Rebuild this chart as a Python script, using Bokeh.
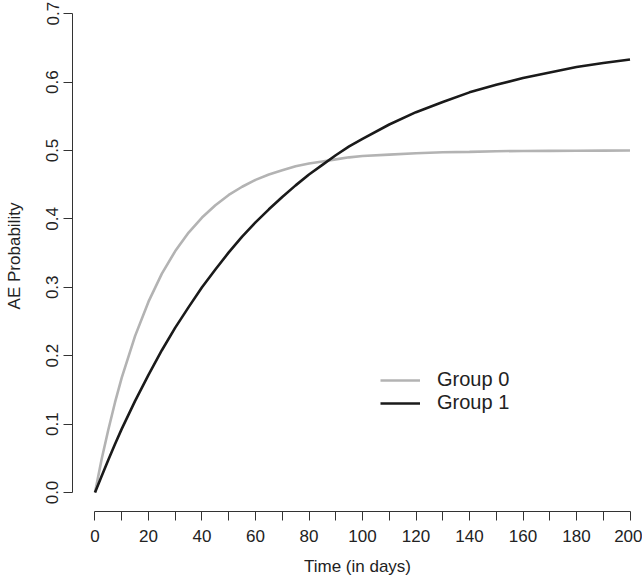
from bokeh.plotting import figure
from bokeh.models import Range1d, Legend, LegendItem, FixedTicker, NumeralTickFormatter
from bokeh.embed import file_html
from bokeh.resources import INLINE

# ---- data ----
days = [0, 2.5, 5, 7.5, 10, 15, 20, 25, 30, 35, 40, 45, 50, 55, 60, 65, 70, 75, 80, 85,
        90, 95, 100, 110, 120, 130, 140, 150, 160, 170, 180, 190, 200]
group0 = [0, 0.049, 0.092, 0.132, 0.168, 0.229, 0.279, 0.320, 0.353, 0.380, 0.402, 0.420,
          0.435, 0.447, 0.457, 0.465, 0.471, 0.477, 0.481, 0.484, 0.487, 0.490, 0.492,
          0.494, 0.496, 0.4975, 0.498, 0.499, 0.4993, 0.4995, 0.4997, 0.4998, 0.4999]
group1 = [0, 0.024, 0.048, 0.071, 0.093, 0.134, 0.172, 0.208, 0.241, 0.271, 0.300, 0.326,
          0.351, 0.374, 0.395, 0.414, 0.432, 0.449, 0.465, 0.479, 0.493, 0.506, 0.517,
          0.538, 0.556, 0.571, 0.585, 0.596, 0.606, 0.614, 0.622, 0.628, 0.633]
series_names = ["Group 0", "Group 1"]
x_major_ticks = [0, 20, 40, 60, 80, 100, 120, 140, 160, 180, 200]
x_minor_ticks = [10, 30, 50, 70, 90, 110, 130, 150, 170, 190]
y_ticks = [0.0, 0.1, 0.2, 0.3, 0.4, 0.5, 0.6, 0.7]

FONT = "Liberation Sans"
TXT = "#222222"

p = figure(width=642, height=579, output_backend="svg", toolbar_location=None,
           x_range=Range1d(-8.41, 204.67), y_range=Range1d(-0.0278, 0.7193),
           min_border_left=72, min_border_right=0, min_border_top=0, min_border_bottom=68)
p.outline_line_color = None
p.xgrid.visible = False
p.ygrid.visible = False
p.background_fill_color = "white"
p.border_fill_color = "white"

r0 = p.line(days, group0, line_color="#b3b3b3", line_width=2.6)
r1 = p.line(days, group1, line_color="#1a1a1a", line_width=2.6)

xa = p.xaxis[0]
xa.ticker = FixedTicker(ticks=x_major_ticks, minor_ticks=x_minor_ticks)
xa.bounds = (0, 200)
xa.axis_label = "Time (in days)"
ya = p.yaxis[0]
ya.ticker = FixedTicker(ticks=y_ticks, minor_ticks=[])
ya.bounds = (0, 0.7)
ya.formatter = NumeralTickFormatter(format="0.0")
ya.axis_label = "AE Probability"
ya.major_label_orientation = "vertical"

for ax in (xa, ya):
    ax.axis_line_color = "#333333"
    ax.axis_line_width = 1
    ax.major_tick_line_color = "#333333"
    ax.minor_tick_line_color = "#333333"
    ax.major_tick_out = 9
    ax.major_tick_in = 0
    ax.minor_tick_out = 9
    ax.minor_tick_in = 0
    ax.major_label_text_font = FONT
    ax.major_label_text_font_size = "17px"
    ax.major_label_text_color = TXT
    ax.axis_label_text_font = FONT
    ax.axis_label_text_font_size = "17px"
    ax.axis_label_text_font_style = "normal"
    ax.axis_label_text_color = TXT

xa.major_label_standoff = 9
xa.axis_label_standoff = 12
ya.major_label_standoff = 5
ya.axis_label_standoff = 20

legend = Legend(items=[LegendItem(label=series_names[0], renderers=[r0]),
                       LegendItem(label=series_names[1], renderers=[r1])],
                location=(308, 97), margin=0, padding=0, spacing=0,
                glyph_width=40, glyph_height=22, label_height=22, label_standoff=17,
                border_line_alpha=0, background_fill_alpha=0,
                label_text_font=FONT, label_text_font_size="20px", label_text_color=TXT)
p.add_layout(legend)

open("out.html", "w").write(file_html(p, INLINE))
